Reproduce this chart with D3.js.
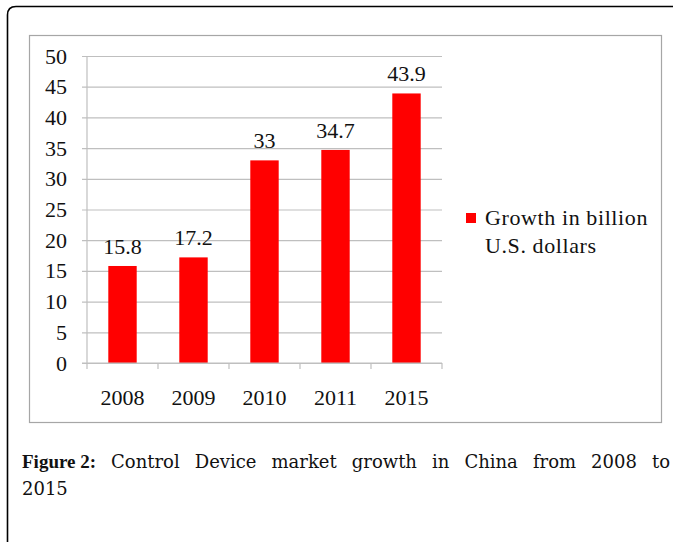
<!DOCTYPE html>
<html>
<head>
<meta charset="utf-8">
<script src="https://cdn.jsdelivr.net/npm/d3@7"></script>
<style>
  body { margin: 0; background: #fff; }
  svg text { font-family: "Liberation Serif", "Times New Roman", serif !important; }
  svg text.cap { font-family: "DejaVu Serif", "Liberation Serif", serif !important; }
</style>
</head>
<body>
<script>
// data
var years = ["2008", "2009", "2010", "2011", "2015"];
var growth = [15.8, 17.2, 33, 34.7, 43.9];
var yTicks = [0, 5, 10, 15, 20, 25, 30, 35, 40, 45, 50];
var legendLines = ["Growth in billion", "U.S. dollars"];
var captionBold = "Figure 2:";
var captionLine1 = "Control Device market growth in China from 2008 to";
var captionLine2 = "2015";

var W = 673, H = 542;
var plot = {left: 87, right: 442, top: 56, bottom: 363};
var fs = 22;

var svg = d3.select("body").append("svg")
  .attr("width", W)
  .attr("height", H);

// outer frame, rounded top-left corner, runs off right and bottom
svg.append("path")
  .attr("d", "M7.5," + (H + 2) + " V15 Q7.5,6.5 16,6.5 H" + (W + 2))
  .attr("fill", "none")
  .attr("stroke", "#000")
  .attr("stroke-width", 1.6);

// chart box
svg.append("rect")
  .attr("x", 29.5).attr("y", 35.5)
  .attr("width", 632).attr("height", 387)
  .attr("fill", "#fff")
  .attr("stroke", "#a6a6a6")
  .attr("stroke-width", 1.2);

var x = d3.scaleBand()
  .domain(years)
  .range([plot.left, plot.right])
  .paddingInner(0.6)
  .paddingOuter(0.3);

var y = d3.scaleLinear()
  .domain([0, 50])
  .range([plot.bottom, plot.top]);

// gridlines + y axis
var yAxis = d3.axisLeft(y)
  .tickValues(yTicks)
  .tickSize(-(plot.right - plot.left))
  .tickPadding(20)
  .tickFormat(d3.format("d"));

var gy = svg.append("g")
  .attr("transform", "translate(" + plot.left + ",0)")
  .call(yAxis);
gy.select(".domain").remove();
gy.selectAll(".tick line")
  .attr("x1", -5)
  .attr("stroke", "#bfbfbf")
  .attr("stroke-width", 1.2);
gy.selectAll(".tick text")
  .attr("font-size", fs)
  .attr("fill", "#111");

// y axis line
svg.append("line")
  .attr("x1", plot.left).attr("x2", plot.left)
  .attr("y1", plot.top).attr("y2", plot.bottom)
  .attr("stroke", "#bfbfbf")
  .attr("stroke-width", 1.2);

// bars
svg.selectAll(".bar")
  .data(years)
  .enter().append("rect")
  .attr("class", "bar")
  .attr("x", function(d) { return x(d); })
  .attr("width", x.bandwidth())
  .attr("y", function(d, i) { return y(growth[i]); })
  .attr("height", function(d, i) { return y(0) - y(growth[i]); })
  .attr("fill", "#ff0000");

// value labels
svg.selectAll(".val")
  .data(years)
  .enter().append("text")
  .attr("class", "val")
  .attr("x", function(d) { return x(d) + x.bandwidth() / 2; })
  .attr("y", function(d, i) { return y(growth[i]) - 12; })
  .attr("text-anchor", "middle")
  .attr("font-size", fs)
  .attr("fill", "#111")
  .text(function(d, i) { return growth[i]; });

// x axis
var step = x.step();
var bounds = years.map(function(d) { return x(d) - step * x.paddingInner() / 2; });
bounds.push(plot.right);

svg.append("line")
  .attr("x1", plot.left - 5).attr("x2", plot.right)
  .attr("y1", plot.bottom).attr("y2", plot.bottom)
  .attr("stroke", "#bfbfbf")
  .attr("stroke-width", 1.2);

svg.selectAll(".xtick")
  .data(bounds)
  .enter().append("line")
  .attr("class", "xtick")
  .attr("x1", function(d) { return d; }).attr("x2", function(d) { return d; })
  .attr("y1", plot.bottom).attr("y2", plot.bottom + 6)
  .attr("stroke", "#bfbfbf")
  .attr("stroke-width", 1.2);

svg.selectAll(".xlab")
  .data(years)
  .enter().append("text")
  .attr("class", "xlab")
  .attr("x", function(d) { return x(d) + x.bandwidth() / 2; })
  .attr("y", 405)
  .attr("text-anchor", "middle")
  .attr("font-size", fs)
  .attr("fill", "#111")
  .text(function(d) { return d; });

// legend
svg.append("rect")
  .attr("x", 466).attr("y", 213)
  .attr("width", 10).attr("height", 10)
  .attr("fill", "#ff0000");

svg.selectAll(".leg")
  .data(legendLines)
  .enter().append("text")
  .attr("class", "leg")
  .attr("x", 485)
  .attr("y", function(d, i) { return 225 + i * 28; })
  .attr("font-size", fs)
  .attr("letter-spacing", 0.6)
  .attr("fill", "#111")
  .text(function(d) { return d; });

// caption, first line justified between 22 and 670
var capLeft = 22, capRight = 670;
var words = [{t: captionBold, bold: true}].concat(
  captionLine1.split(" ").map(function(w) { return {t: w, bold: false}; }));

var wnodes = svg.selectAll(".capw")
  .data(words)
  .enter().append("text")
  .attr("class", function(d) { return d.bold ? "capb" : "cap"; })
  .attr("y", 468)
  .attr("font-size", function(d) { return d.bold ? 19 : 18; })
  .attr("font-weight", function(d) { return d.bold ? "bold" : "normal"; })
  .attr("fill", "#111")
  .text(function(d) { return d.t; });

var widths = [];
wnodes.each(function() { widths.push(this.getComputedTextLength()); });
var total = d3.sum(widths);
var gap = (capRight - capLeft - total) / (words.length - 1);
var cx = capLeft;
wnodes.attr("x", function(d, i) {
  var p = cx;
  cx += widths[i] + gap;
  return p;
});

svg.append("text")
  .attr("class", "cap")
  .attr("x", capLeft)
  .attr("y", 495)
  .attr("font-size", 18)
  .attr("fill", "#111")
  .text(captionLine2);
</script>
</body>
</html>
